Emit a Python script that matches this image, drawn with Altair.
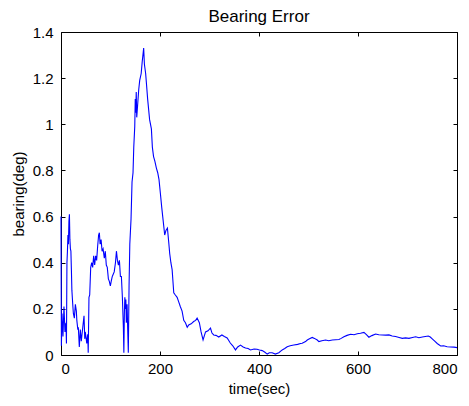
import altair as alt
import pandas as pd

time_sec = [0, 0.8, 2, 4, 6, 8, 10, 11, 12, 13, 14, 15, 16, 17, 18, 19, 20, 21, 22, 24, 25, 27, 29, 31, 32, 34, 35, 37, 39, 41, 42, 44, 46.5, 48, 49, 51, 52, 54, 55, 56.5, 58, 60, 62, 64, 66, 68, 70, 72, 74, 76, 77.5, 79, 81, 83, 85, 87.5, 89.5, 91.5, 93.5, 95.7, 97.5, 99.7, 101.5, 103.5, 105.5, 107.5, 110, 112, 114, 116, 118, 120, 122, 124, 126, 127, 128, 129, 130, 131, 132, 133.5, 135, 136, 137.5, 139, 141.5, 143.5, 145.5, 147, 149, 150, 151, 152, 153, 154, 157, 159, 162, 164, 166, 167, 168.5, 171, 172.5, 175, 179, 182.6, 184.6, 187, 189.6, 192.7, 195.4, 198, 200.8, 203.5, 205.5, 207.5, 209.5, 212, 215, 217.6, 219.6, 222, 224.5, 227.8, 231, 234.6, 237.8, 241, 244.6, 248, 251.4, 255, 258, 263, 268, 272, 275, 279.5, 283, 287, 292, 297, 302, 305, 308.6, 313, 318.7, 325, 330, 335.7, 342, 347, 352.5, 357, 362.6, 368, 372.7, 378, 382.8, 390, 396, 401, 406.5, 412, 416.6, 421, 426.6, 433, 440, 446.9, 452, 457, 463, 470.4, 478, 484, 487.3, 494, 497.5, 502, 507.6, 512, 517.7, 521, 527, 534.5, 541, 548, 555, 561.5, 566, 571.5, 578, 585, 592, 598.5, 605, 612, 617, 622, 628, 635.6, 642, 649, 656, 662.5, 669, 676, 683, 689.6, 696, 703, 710, 716.5, 723, 730, 736, 742, 746, 750, 755, 760, 767, 773, 780, 787, 794, 800]

bearing_deg = [0.60, 0.04, 0.18, 0.08, 0.21, 0.10, 0.14, 0.05, 0.40, 0.45, 0.52, 0.48, 0.58, 0.61, 0.50, 0.46, 0.45, 0.37, 0.28, 0.21, 0.18, 0.16, 0.22, 0.19, 0.15, 0.11, 0.12, 0.035, 0.11, 0.06, 0.08, 0.12, 0.17, 0.07, 0.10, 0.07, 0.05, 0.09, 0.01, 0.25, 0.26, 0.38, 0.40, 0.38, 0.43, 0.39, 0.43, 0.41, 0.47, 0.52, 0.53, 0.48, 0.50, 0.45, 0.46, 0.42, 0.45, 0.39, 0.38, 0.33, 0.32, 0.30, 0.32, 0.34, 0.35, 0.36, 0.40, 0.45, 0.41, 0.39, 0.41, 0.34, 0.34, 0.25, 0.12, 0.01, 0.18, 0.25, 0.20, 0.24, 0.14, 0.22, 0.09, 0.01, 0.30, 0.48, 0.59, 0.75, 0.79, 0.90, 0.99, 1.11, 1.05, 1.14, 1.03, 1.06, 1.15, 1.19, 1.22, 1.27, 1.31, 1.33, 1.26, 1.22, 1.18, 1.11, 1.02, 0.98, 0.90, 0.86, 0.84, 0.81, 0.79, 0.76, 0.70, 0.64, 0.60, 0.56, 0.52, 0.54, 0.55, 0.49, 0.44, 0.40, 0.37, 0.27, 0.26, 0.25, 0.23, 0.21, 0.19, 0.15, 0.14, 0.12, 0.13, 0.135, 0.145, 0.15, 0.16, 0.14, 0.10, 0.065, 0.10, 0.105, 0.117, 0.095, 0.087, 0.085, 0.078, 0.087, 0.08, 0.074, 0.052, 0.04, 0.022, 0.035, 0.043, 0.035, 0.03, 0.028, 0.022, 0.026, 0.025, 0.022, 0.019, 0.012, 0.004, 0.01, 0.01, 0.004, 0.01, 0.022, 0.028, 0.036, 0.04, 0.043, 0.046, 0.05, 0.051, 0.058, 0.065, 0.07, 0.076, 0.072, 0.065, 0.058, 0.062, 0.065, 0.062, 0.065, 0.066, 0.067, 0.072, 0.079, 0.085, 0.09, 0.088, 0.092, 0.094, 0.098, 0.088, 0.077, 0.084, 0.091, 0.088, 0.087, 0.086, 0.087, 0.082, 0.08, 0.076, 0.072, 0.074, 0.072, 0.076, 0.079, 0.075, 0.078, 0.08, 0.082, 0.078, 0.07, 0.06, 0.05, 0.039, 0.04, 0.036, 0.035, 0.034, 0.032]

x_ticks = [0, 200, 400, 600, 800]
y_ticks = [0, 0.2, 0.4, 0.6, 0.8, 1.0, 1.2, 1.4]

df = pd.DataFrame({"time": time_sec, "bearing": bearing_deg})

FONT = "Liberation Sans"

base = alt.Chart(df)

main = base.mark_line(color="#0000ff", strokeWidth=1.1).encode(
    x=alt.X("time:Q", scale=alt.Scale(domain=[0, 800], nice=False, zero=False),
            axis=alt.Axis(orient="bottom", values=x_ticks, offset=-4, tickSize=4,
                          domain=False, grid=False, labelPadding=6,
                          title="time(sec)", titlePadding=5)),
    y=alt.Y("bearing:Q", scale=alt.Scale(domain=[0, 1.4], nice=False),
            axis=alt.Axis(orient="left", values=y_ticks, offset=-4, tickSize=4,
                          domain=False, grid=False, labelPadding=8, format="~g",
                          title="bearing(deg)", titlePadding=6)),
)

ticks = base.mark_line(opacity=0).encode(
    x=alt.X("time:Q", scale=alt.Scale(domain=[0, 800], nice=False, zero=False),
            axis=alt.Axis(orient="top", values=x_ticks, offset=-4, tickSize=4,
                          domain=False, grid=False, labels=False), title=None),
    y=alt.Y("bearing:Q", scale=alt.Scale(domain=[0, 1.4], nice=False),
            axis=alt.Axis(orient="right", values=y_ticks, offset=-4, tickSize=4,
                          domain=False, grid=False, labels=False), title=None),
)

chart = alt.layer(main, ticks).resolve_axis(x="independent", y="independent").properties(
    width=396,
    height=323,
    title=alt.TitleParams("Bearing Error", fontSize=17, font=FONT, fontWeight="normal",
                          color="black", offset=6, dy=7),
    padding={"left": 53, "top": 24, "right": 4, "bottom": 43},
    autosize=alt.AutoSizeParams(type="none"),
    background="white",
).configure_view(
    stroke="black", strokeWidth=1
).configure_axis(
    labelFont=FONT, labelFontSize=15, labelColor="black",
    titleFont=FONT, titleFontSize=15, titleColor="black", titleFontWeight="normal",
    tickColor="black", tickWidth=1,
)

chart.save("out.html", embed_options={"renderer": "svg", "actions": False})
